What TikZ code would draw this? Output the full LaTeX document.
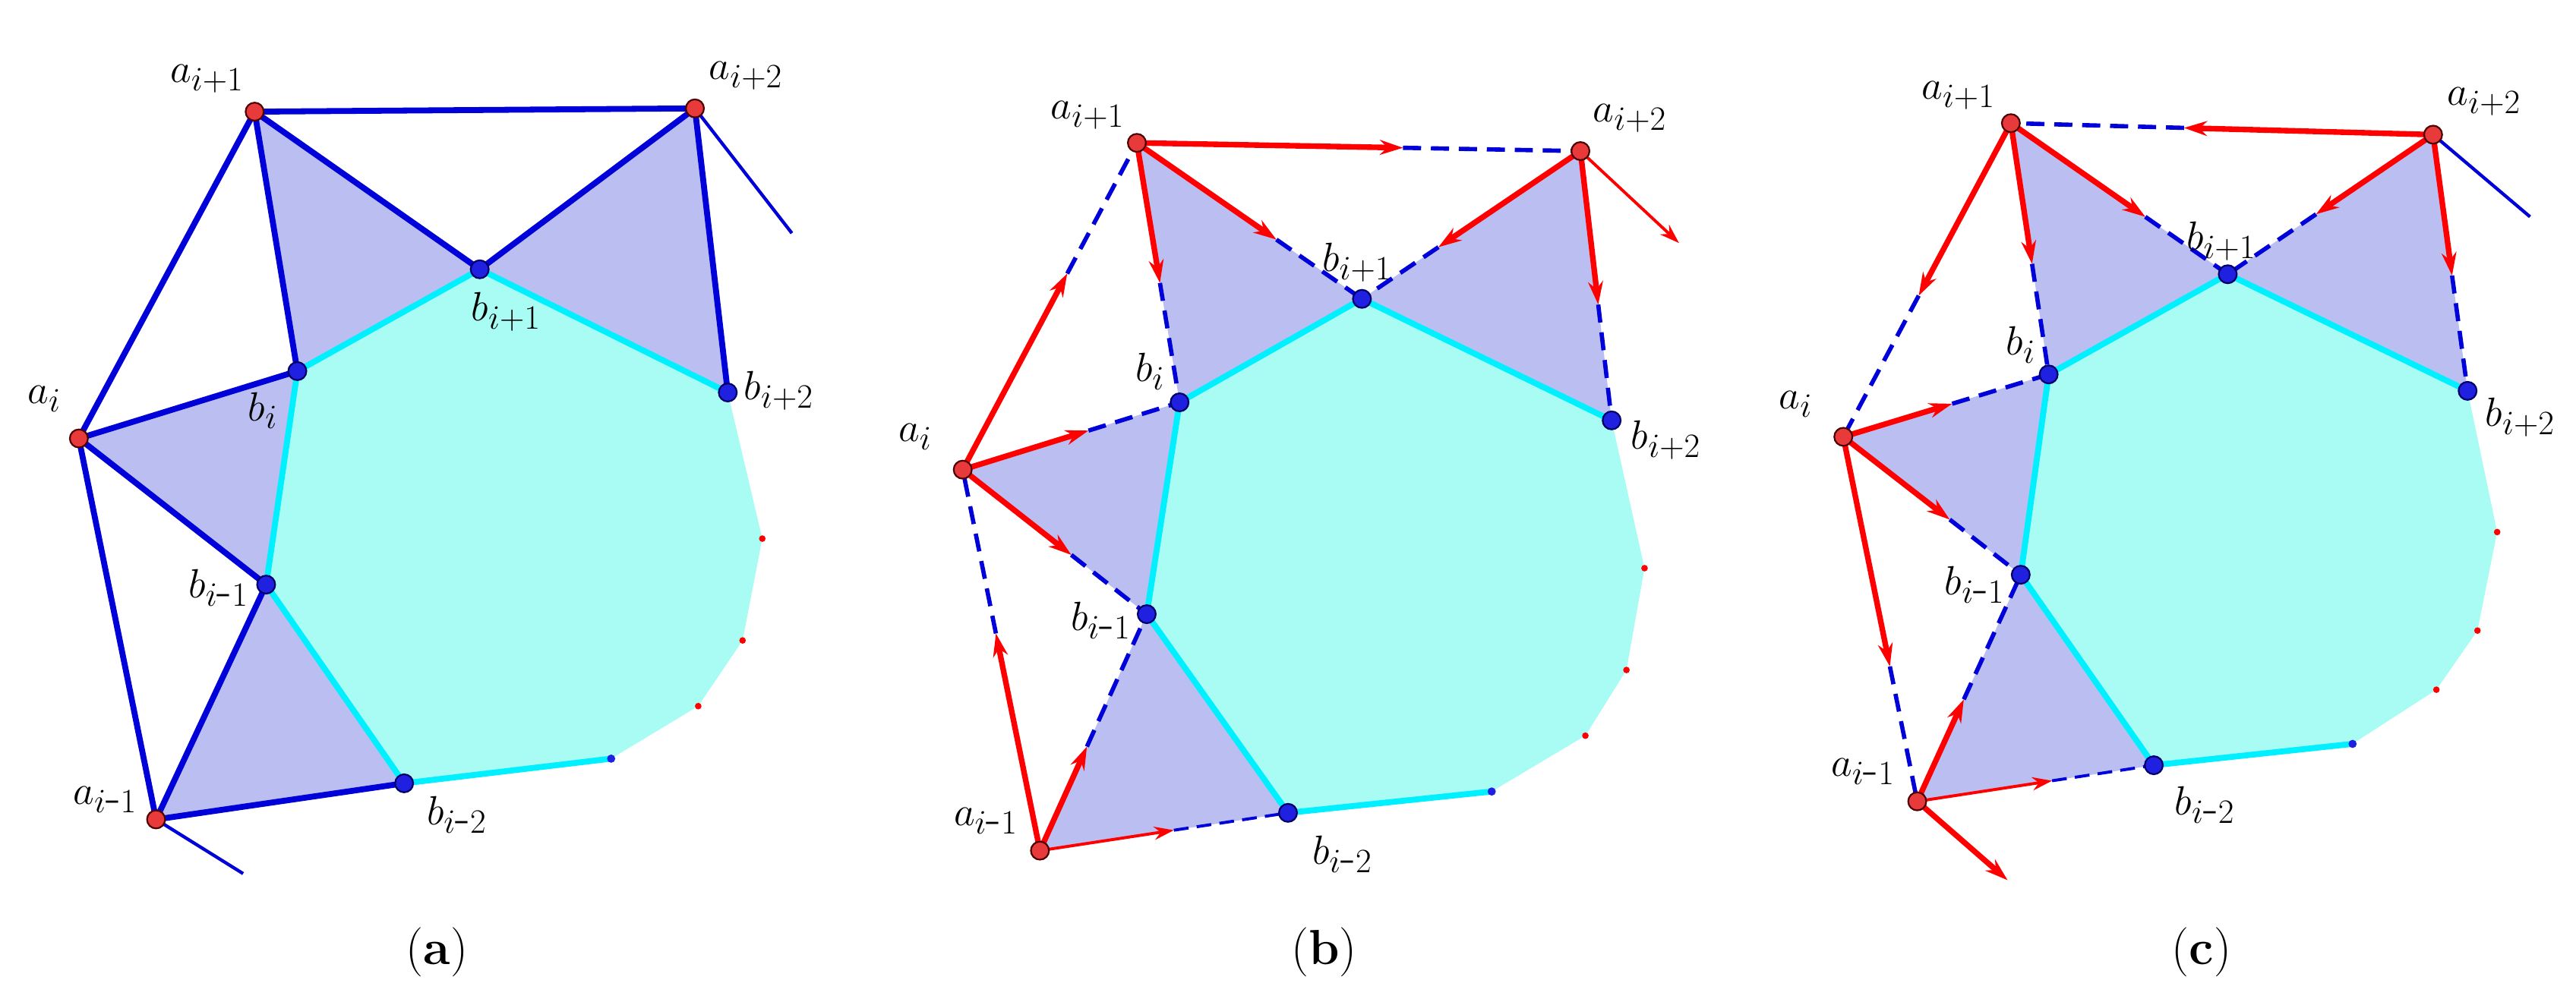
\documentclass[tikz,border=0pt]{standalone}
\usetikzlibrary{calc,arrows.meta}
\definecolor{aqua}{HTML}{A8FCF3}
\definecolor{lav}{HTML}{BABEF1}
\definecolor{rnode}{HTML}{E83A3A}
\definecolor{bnode}{HTML}{2020E0}
\definecolor{cy}{HTML}{00F0FF}
\newcommand\mn{\mbox{-}}
\tikzset{
 rdot/.style={circle,fill=rnode,draw=black!70!red,line width=1pt,inner sep=0pt,minimum size=11pt},
 bdot/.style={circle,fill=bnode,draw=black!60!blue,line width=1pt,inner sep=0pt,minimum size=11pt},
 srdot/.style={circle,fill=red,inner sep=0pt,minimum size=4pt},
 sbdot/.style={circle,fill=bnode,inner sep=0pt,minimum size=5pt},
 lbl/.style={font=\fontsize{30}{32}\selectfont},
 bedge/.style={blue!85!black,line width=3.6pt,line cap=round},
 bthin/.style={blue!85!black,line width=2pt},
 cedge/.style={cy,line width=3.6pt},
 redge/.style={red,line width=3.4pt,-{Stealth[length=14pt,width=9pt]}},
 rthin/.style={red,line width=1.8pt,-{Stealth[length=12pt,width=8pt]}},
 dedge/.style={blue!85!black,line width=2.6pt,dash pattern=on 11pt off 6pt},
 dthin/.style={blue!85!black,line width=1.8pt,dash pattern=on 9pt off 5pt},
}
\newcommand\halfe[4][]{\draw[redge,#1] (#2) -- ($(#2)!#4!(#3)$);\draw[dedge] ($(#2)!#4!(#3)$) -- (#3);}
\newcommand\halft[3]{\draw[rthin] (#1) -- ($(#1)!#3!(#2)$);\draw[dthin] ($(#1)!#3!(#2)$) -- (#2);}
\newcommand\panelbase[1]{%
 \fill[aqua] (#1bi)--(#1bj)--(#1bk)--(#1p1)--(#1p2)--(#1p3)--(#1p4)--(#1bm)--(#1bl)--cycle;
 \fill[lav] (#1aj)--(#1bj)--(#1bi)--cycle;
 \fill[lav] (#1ak)--(#1bj)--(#1bk)--cycle;
 \fill[lav] (#1ai)--(#1bi)--(#1bl)--cycle;
 \fill[lav] (#1al)--(#1bl)--(#1bm)--cycle;
 \draw[cedge] (#1bi)--(#1bj)--(#1bk);
 \draw[cedge] (#1bi)--(#1bl)--(#1bm)--(#1p4);
}
\newcommand\paneldots[1]{%
 \node[srdot] (#1d1) at (#1p1) {};\node[srdot] (#1d2) at (#1p2) {};\node[srdot] (#1d3) at (#1p3) {};\node[sbdot] (#1d4) at (#1p4) {};
 \node[rdot] (#1Aj) at (#1aj) {};\node[rdot] (#1Ak) at (#1ak) {};\node[rdot] (#1Ai) at (#1ai) {};\node[rdot] (#1Al) at (#1al) {};
 \node[bdot] (#1Bi) at (#1bi) {};\node[bdot] (#1Bj) at (#1bj) {};\node[bdot] (#1Bk) at (#1bk) {};\node[bdot] (#1Bl) at (#1bl) {};\node[bdot] (#1Bm) at (#1bm) {};
}
\begin{document}
\begin{tikzpicture}[x=1pt,y=-1pt]
\useasboundingbox (0,0) rectangle (1568,610);
% ---------- panel a
\coordinate (aaj) at (155,68);\coordinate (aak) at (423,66);\coordinate (abj) at (292,164);
\coordinate (abi) at (181,226);\coordinate (aai) at (48,267);\coordinate (abk) at (443,239);
\coordinate (abl) at (162,356);\coordinate (aal) at (95,499);\coordinate (abm) at (246,477);
\coordinate (ap1) at (464,328);\coordinate (ap2) at (452,390);\coordinate (ap3) at (425,430);\coordinate (ap4) at (372,462);
\coordinate (at1) at (148,532);\coordinate (at2) at (482,142);
\panelbase{a}
\draw[bthin] (aal)--(at1); \draw[bthin] (aak)--(at2);
\draw[bedge] (aai)--(aaj); \draw[bedge] (aai)--(aal);
\draw[bedge] (aaj)--(aak);
\draw[bedge] (aaj)--(abi); \draw[bedge] (aaj)--(abj); \draw[bedge] (aak)--(abj); \draw[bedge] (aak)--(abk);
\draw[bedge] (aai)--(abi); \draw[bedge] (aai)--(abl); \draw[bedge] (aal)--(abl); \draw[bedge] (aal)--(abm);
\paneldots{a}
\node[lbl] (la1) at (126,48) {$a_{i+1}$};\node[lbl] (la2) at (454,46) {$a_{i+2}$};
\node[lbl] (la3) at (308,190) {$b_{i+1}$};\node[lbl] (la4) at (160,250) {$b_{i}$};
\node[lbl] (la5) at (27,243) {$a_{i}$};\node[lbl] (la6) at (474,238) {$b_{i+2}$};
\node[lbl] (la7) at (133,358) {$b_{i\mn1}$};\node[lbl] (la8) at (64,487) {$a_{i\mn1}$};
\node[lbl] (la9) at (278,496) {$b_{i\mn2}$};
\node[lbl] (pa) at (266,580) {(\textbf{a})};
% ---------- panel b
\coordinate (baj) at (692,87);\coordinate (bak) at (962,92);\coordinate (bbj) at (829,182);
\coordinate (bbi) at (718,245);\coordinate (bai) at (586,286);\coordinate (bbk) at (981,256);
\coordinate (bbl) at (698,374);\coordinate (bal) at (633,518);\coordinate (bbm) at (784,495);
\coordinate (bp1) at (1001,346);\coordinate (bp2) at (990,408);\coordinate (bp3) at (965,448);\coordinate (bp4) at (908,482);
\coordinate (bt2) at (1022,148);
\panelbase{b}
\draw[rthin] (bak)--(bt2);
\halfe{baj}{bak}{0.6}\halfe{bai}{baj}{0.6}\halfe{bal}{bai}{0.57}
\halfe{baj}{bbi}{0.54}\halfe{baj}{bbj}{0.62}\halfe{bak}{bbj}{0.65}\halfe{bak}{bbk}{0.57}
\halfe{bai}{bbi}{0.58}\halfe{bai}{bbl}{0.59}\halfe{bal}{bbl}{0.44}\halft{bal}{bbm}{0.54}
\paneldots{b}
\node[lbl] (lb1) at (662,70) {$a_{i+1}$};\node[lbl] (lb2) at (992,72) {$a_{i+2}$};
\node[lbl] (lb3) at (826,160) {$b_{i+1}$};\node[lbl] (lb4) at (700,226) {$b_{i}$};
\node[lbl] (lb5) at (557,266) {$a_{i}$};\node[lbl] (lb6) at (1014,268) {$b_{i+2}$};
\node[lbl] (lb7) at (670,378) {$b_{i\mn1}$};\node[lbl] (lb8) at (600,500) {$a_{i\mn1}$};
\node[lbl] (lb9) at (817,520) {$b_{i\mn2}$};
\node[lbl] (pb) at (806,580) {(\textbf{b})};
% ---------- panel c
\coordinate (caj) at (1224,75);\coordinate (cak) at (1481,82);\coordinate (cbj) at (1356,167);
\coordinate (cbi) at (1247,228);\coordinate (cai) at (1122,266);\coordinate (cbk) at (1502,238);
\coordinate (cbl) at (1230,350);\coordinate (cal) at (1167,488);\coordinate (cbm) at (1311,466);
\coordinate (cp1) at (1520,324);\coordinate (cp2) at (1508,384);\coordinate (cp3) at (1483,420);\coordinate (cp4) at (1432,453);
\coordinate (ct1) at (1222,536);\coordinate (ct2) at (1540,132);
\panelbase{c}
\draw[bthin] (cak)--(ct2);
\draw[redge] (cal)--(ct1);
\halfe{cak}{caj}{0.59}\halfe{caj}{cai}{0.55}\halfe{cai}{cal}{0.63}
\halfe{caj}{cbi}{0.56}\halfe{caj}{cbj}{0.62}\halfe{cak}{cbj}{0.57}\halfe{cak}{cbk}{0.55}
\halfe{cai}{cbi}{0.53}\halfe{cai}{cbl}{0.6}\halfe{cal}{cbl}{0.45}\halft{cal}{cbm}{0.57}
\paneldots{c}
\node[lbl] (lc1) at (1192,58) {$a_{i+1}$};\node[lbl] (lc2) at (1512,62) {$a_{i+2}$};
\node[lbl] (lc3) at (1352,147) {$b_{i+1}$};\node[lbl] (lc4) at (1230,210) {$b_{i}$};
\node[lbl] (lc5) at (1093,246) {$a_{i}$};\node[lbl] (lc6) at (1534,254) {$b_{i+2}$};
\node[lbl] (lc7) at (1202,356) {$b_{i\mn1}$};\node[lbl] (lc8) at (1134,470) {$a_{i\mn1}$};
\node[lbl] (lc9) at (1342,490) {$b_{i\mn2}$};
\node[lbl] (pc) at (1340,580) {(\textbf{c})};
\end{tikzpicture}
\end{document}
